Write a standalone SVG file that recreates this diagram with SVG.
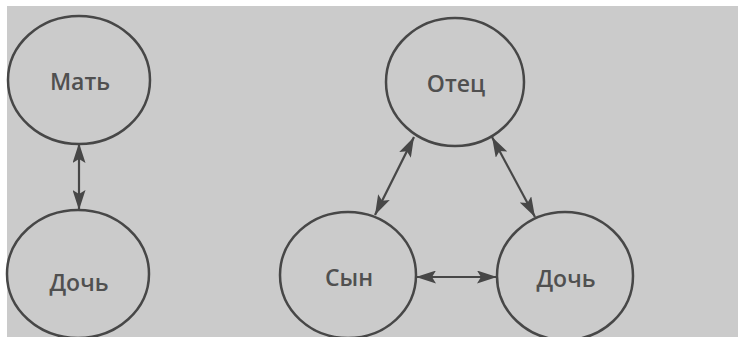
<svg xmlns="http://www.w3.org/2000/svg" width="738" height="337" viewBox="0 0 738 337">
<defs>
<style>
.node ellipse{fill:none;stroke:#474747;stroke-width:2.5}
.node text{font-family:"Open Sans","Noto Sans",sans-serif;font-size:23px;font-weight:600;fill:#505050;text-anchor:middle;dominant-baseline:central}
.edges line{stroke:#474747;stroke-width:2.2}
</style>
<marker id="ah" viewBox="0 0 20 13" refX="20" refY="6.5" markerWidth="20" markerHeight="13" markerUnits="userSpaceOnUse" orient="auto-start-reverse">
<path d="M0,0 L20,6.5 L0,13 L4,6.5 Z" fill="#474747"/>
</marker>
</defs>
<rect width="738" height="337" fill="#ffffff"/>
<rect x="7" y="6" width="731" height="331" fill="#cbcbcb"/>
<g class="edges">
<line x1="79" y1="143" x2="79" y2="210" marker-start="url(#ah)" marker-end="url(#ah)"/>
<line x1="414" y1="137" x2="375" y2="215" marker-start="url(#ah)" marker-end="url(#ah)"/>
<line x1="492" y1="137" x2="535" y2="217" marker-start="url(#ah)" marker-end="url(#ah)"/>
<line x1="416" y1="277" x2="497" y2="277" marker-start="url(#ah)" marker-end="url(#ah)"/>
</g>
<g id="mat" class="node"><ellipse cx="79" cy="80" rx="71" ry="64"/><text x="80" y="81">Мать</text></g>
<g id="doch1" class="node"><ellipse cx="78" cy="274" rx="71" ry="64"/><text x="79" y="282">Дочь</text></g>
<g id="otec" class="node"><ellipse cx="455" cy="82" rx="69" ry="64"/><text x="456" y="83">Отец</text></g>
<g id="syn" class="node"><ellipse cx="348" cy="275" rx="68" ry="63"/><text x="349" y="277">Сын</text></g>
<g id="doch2" class="node"><ellipse cx="565" cy="276" rx="68" ry="64"/><text x="566" y="278">Дочь</text></g>
</svg>
